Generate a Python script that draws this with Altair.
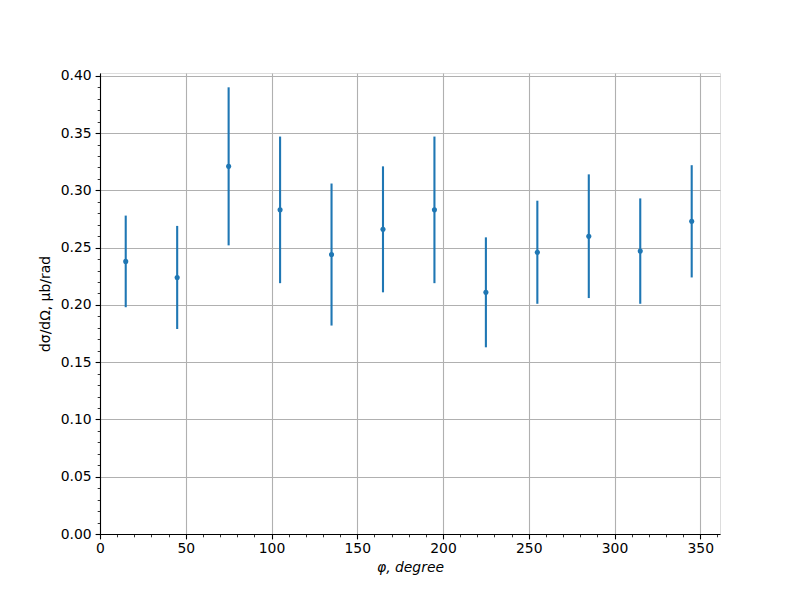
import altair as alt
import pandas as pd

phi = [15, 45, 75, 105, 135, 165, 195, 225, 255, 285, 315, 345]
xsec = [0.238, 0.224, 0.321, 0.283, 0.244, 0.266, 0.283, 0.211, 0.246, 0.260, 0.247, 0.273]
err = [0.040, 0.045, 0.069, 0.064, 0.062, 0.055, 0.064, 0.048, 0.045, 0.054, 0.046, 0.049]

df = pd.DataFrame({"phi": phi, "xsec": xsec, "err": err})
df["lo"] = df["xsec"] - df["err"]
df["hi"] = df["xsec"] + df["err"]

x_major = [0, 50, 100, 150, 200, 250, 300, 350]
x_minor = list(range(0, 361, 10))
y_major = [round(i * 0.05, 2) for i in range(9)]
y_minor = [round(i * 0.01, 2) for i in range(41)]

xscale = alt.Scale(domain=[0, 361.5], nice=False, zero=False)
yscale = alt.Scale(domain=[0, 0.4025], nice=False, zero=False)

BLUE = "#1f77b4"
FONT = "DejaVu Sans"

common_axis = dict(
    domainColor="black", domainWidth=1.1, tickColor="black", tickWidth=1.1,
    labelFont=FONT, labelFontSize=13.9, labelColor="black",
    titleFont=FONT, titleFontSize=13.9, titleColor="black", titleFontWeight="normal",
)

bars = alt.Chart(df).mark_rule(color=BLUE, strokeWidth=2.1).encode(
    x=alt.X("phi:Q", scale=xscale,
            axis=alt.Axis(values=x_major, format="d", grid=True, gridColor="#b0b0b0",
                          gridWidth=1.1, tickSize=4.9, labelPadding=3,
                          title="φ, degree", titleFontStyle="italic", titlePadding=5,
                          labelFlush=False, **common_axis)),
    y=alt.Y("lo:Q", scale=yscale,
            axis=alt.Axis(values=y_major, format=".2f", grid=True, gridColor="#b0b0b0",
                          gridWidth=1.1, tickSize=4.9, labelPadding=4,
                          title="dσ/dΩ, μb/rad", titlePadding=8,
                          labelFlush=False, **common_axis)),
    y2="hi:Q",
)

points = alt.Chart(df).mark_circle(color=BLUE, opacity=1, size=26).encode(
    x=alt.X("phi:Q", scale=xscale,
            axis=alt.Axis(values=x_minor, labels=False, grid=False, tickSize=2.8,
                          title=None, domain=False, orient="bottom",
                          tickColor="black", tickWidth=0.8)),
    y=alt.Y("xsec:Q", scale=yscale,
            axis=alt.Axis(values=y_minor, labels=False, grid=False, tickSize=2.8,
                          title=None, domain=False, orient="left",
                          tickColor="black", tickWidth=0.8)),
)

chart = alt.layer(bars, points).resolve_axis(x="independent", y="independent").properties(
    width=620, height=461,
    autosize=alt.AutoSizeParams(type="none"),
    padding={"left": 92, "top": 65, "right": 60, "bottom": 60},
).configure_view(stroke="black", strokeWidth=1.1).configure(background="white")

chart.save("out.html", embed_options={"renderer": "svg", "actions": False})
